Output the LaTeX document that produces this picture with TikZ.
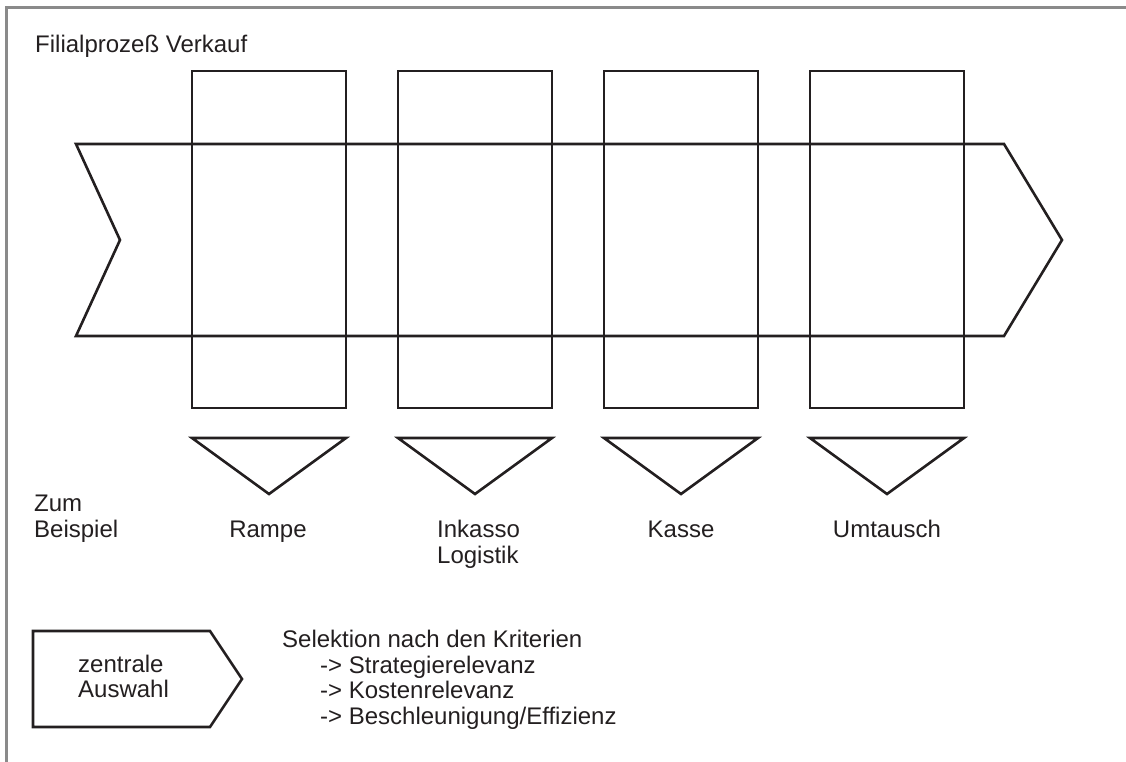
\documentclass[tikz,border=0pt]{standalone}
\usepackage{fontspec}
\setmainfont{Liberation Sans}
\definecolor{ink}{HTML}{231F20}
\definecolor{framegray}{HTML}{8A8A8A}
\begin{document}
\begin{tikzpicture}[x=1pt,y=-1pt,line join=miter]
\tikzset{
  shapeline/.style={line width=2.6pt,draw=ink},
  stagebox/.style={shapeline,rectangle,minimum width=154pt,minimum height=337pt,inner sep=0pt,outer sep=0pt},
  lbl/.style={font=\fontsize{24}{26}\selectfont,text=ink,inner sep=0pt,anchor=base west},
  clbl/.style={lbl,anchor=base}
}
\useasboundingbox (0,0) rectangle (1126,762);

% outer frame (only top and left edges visible)
\draw[framegray,line width=3pt] (6,762) -- (6,7.5) -- (1126,7.5);

\node[lbl] (title) at (35,53) {Filialprozeß Verkauf};

% process chevron
\draw[shapeline] (76,144) -- (1004,144) -- (1062,240) -- (1004,336)
  -- (76,336) -- (120,240) -- cycle;

% stage boxes
\node[stagebox] (b1) at (269,239.5) {};
\node[stagebox] (b2) at (475,239.5) {};
\node[stagebox] (b3) at (681,239.5) {};
\node[stagebox] (b4) at (887,239.5) {};

% selection triangles below each stage
\foreach \b in {b1,b2,b3,b4}{
  \draw[shapeline] ([yshift=-30pt]\b.south west) -- ([yshift=-30pt]\b.south east)
    -- ([yshift=-86pt]\b.south) -- cycle;
}

% example labels
\node[lbl] (zum) at (34,511) {Zum};
\node[lbl] (beispiel) at (34,537) {Beispiel};
\node[clbl] (rampe) at (268,537) {Rampe};
\node[lbl] (inkasso) at (437,537) {Inkasso};
\node[lbl] (logistik) at (437,563) {Logistik};
\node[clbl] (kasse) at (681,537) {Kasse};
\node[clbl] (umtausch) at (887,537) {Umtausch};

% legend
\draw[shapeline] (33,631) -- (210,631) -- (242,679) -- (210,727) -- (33,727) -- cycle;
\node[lbl] (zentrale) at (78,672) {zentrale};
\node[lbl] (auswahl) at (78,697) {Auswahl};

\node[lbl] (sel) at (282,647) {Selektion nach den Kriterien};
\node[lbl] (k1) at (320,673) {-> Strategierelevanz};
\node[lbl] (k2) at (320,698) {-> Kostenrelevanz};
\node[lbl] (k3) at (320,724) {-> Beschleunigung/Effizienz};
\end{tikzpicture}
\end{document}
